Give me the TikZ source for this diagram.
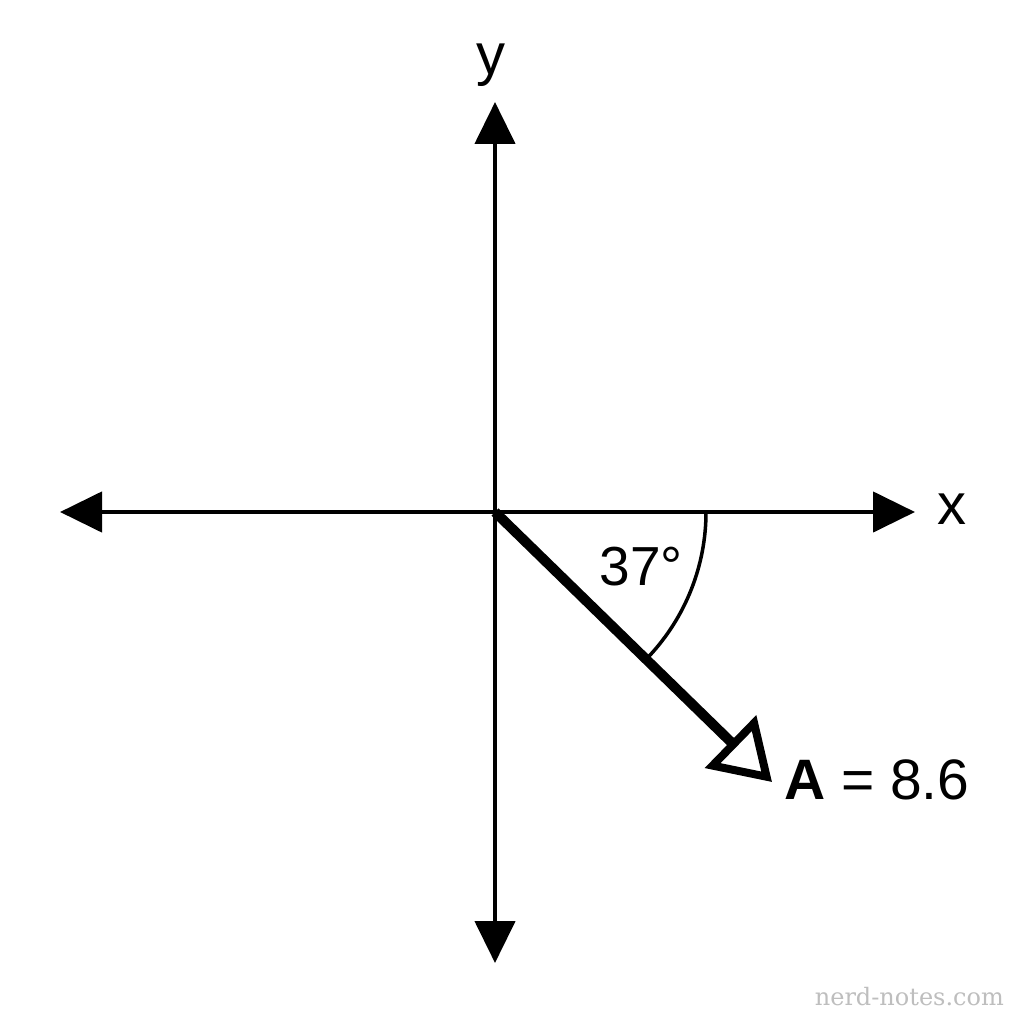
\documentclass[tikz,border=0pt]{standalone}
\usepackage{fontspec}
\setmainfont{Liberation Sans}
\newfontfamily\wmfont{DejaVu Serif}
\usetikzlibrary{arrows.meta}
\definecolor{wmgray}{RGB}{190,190,190}
\begin{document}
\begin{tikzpicture}[x=1pt,y=-1pt,
  axis/.style={line width=4.5pt,{Triangle[length=42pt,width=40pt]}-{Triangle[length=42pt,width=40pt]}},
  vec/.style={line width=10pt,-{Triangle[open,length=58pt,width=72pt,line width=8pt]}},
  lbl/.style={font=\fontsize{58}{60}\selectfont, inner sep=0pt}]
\useasboundingbox (0,0) rectangle (1024,1024);
\fill[white] (0,0) rectangle (1024,1024);
\coordinate (O) at (495,512);
\coordinate (L) at (60,512);
\coordinate (R) at (915,512);
\coordinate (T) at (495,102);
\coordinate (B) at (495,963);
\coordinate (V) at (772,782);
\draw[axis] (L) -- (R);
\draw[axis] (B) -- (T);
\draw[line width=3.5pt] (706,512) arc[start angle=0, end angle=43, radius=211];
\draw[vec] (O) -- (V);
\node[lbl, anchor=base] (ylab) at (491,75) {y};
\node[lbl, anchor=base] (xlab) at (952,524) {x};
\node[lbl, anchor=base, font=\fontsize{55}{57}\selectfont] (ang) at (641,585) {37°};
\node[lbl, anchor=base west, font=\fontsize{57}{60}\selectfont] (alab) at (784,799) {\textbf{A} = 8.6};
\node[anchor=base east, inner sep=0pt, text=wmgray, font=\wmfont\fontsize{24}{26}\selectfont] (wm) at (1004,1005) {nerd-notes.com};
\end{tikzpicture}
\end{document}
